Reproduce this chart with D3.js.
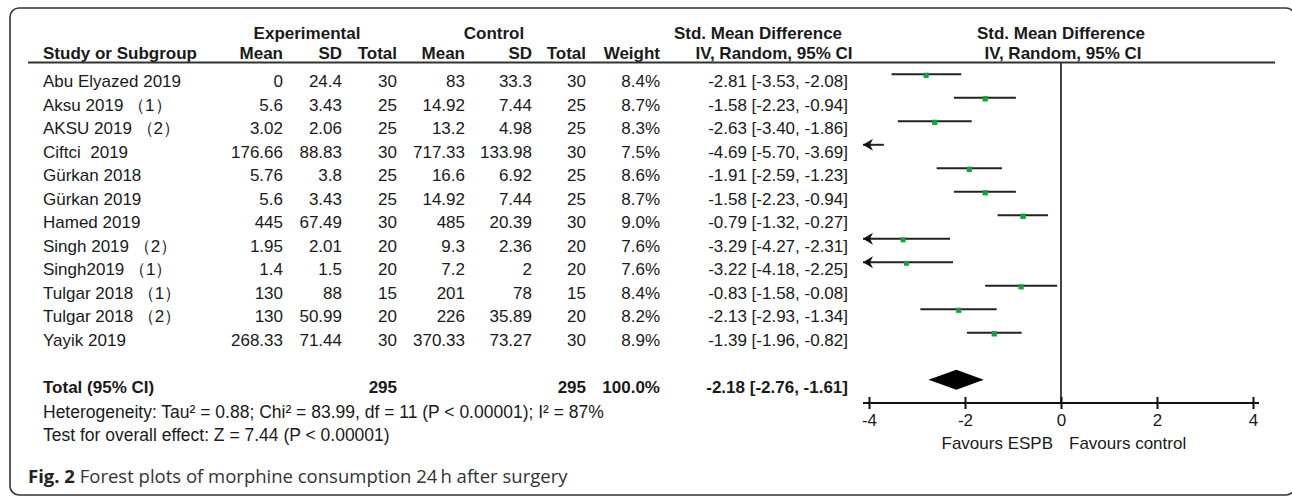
<!DOCTYPE html>
<html>
<head>
<meta charset="utf-8">
<script src="https://cdnjs.cloudflare.com/ajax/libs/d3/7.8.5/d3.min.js"></script>
<style>
  body { margin: 0; background: #fff; }
  svg text { font-family: "Liberation Sans", Arial, sans-serif; fill: #1a1a1a; white-space: pre; }
</style>
</head>
<body>
<div id="chart"></div>
<script>
// data
var studies = ["Abu Elyazed 2019", "Aksu 2019 （1）", "AKSU 2019 （2）", "Ciftci  2019", "Gürkan 2018", "Gürkan 2019",
  "Hamed 2019", "Singh 2019 （2）", "Singh2019 （1）", "Tulgar 2018 （1）", "Tulgar 2018 （2）", "Yayik 2019"];
var expMean = [0, 5.6, 3.02, 176.66, 5.76, 5.6, 445, 1.95, 1.4, 130, 130, 268.33];
var expSD = [24.4, 3.43, 2.06, 88.83, 3.8, 3.43, 67.49, 2.01, 1.5, 88, 50.99, 71.44];
var expTotal = [30, 25, 25, 30, 25, 25, 30, 20, 20, 15, 20, 30];
var ctrlMean = [83, 14.92, 13.2, 717.33, 16.6, 14.92, 485, 9.3, 7.2, 201, 226, 370.33];
var ctrlSD = [33.3, 7.44, 4.98, 133.98, 6.92, 7.44, 20.39, 2.36, 2, 78, 35.89, 73.27];
var ctrlTotal = [30, 25, 25, 30, 25, 25, 30, 20, 20, 15, 20, 30];
var weight = [8.4, 8.7, 8.3, 7.5, 8.6, 8.7, 9.0, 7.6, 7.6, 8.4, 8.2, 8.9];
var smd = [-2.81, -1.58, -2.63, -4.69, -1.91, -1.58, -0.79, -3.29, -3.22, -0.83, -2.13, -1.39];
var ciLow = [-3.53, -2.23, -3.40, -5.70, -2.59, -2.23, -1.32, -4.27, -4.18, -1.58, -2.93, -1.96];
var ciHigh = [-2.08, -0.94, -1.86, -3.69, -1.23, -0.94, -0.27, -2.31, -2.25, -0.08, -1.34, -0.82];

var total = { exp: 295, ctrl: 295, weight: 100.0, smd: -2.18, lo: -2.76, hi: -1.61 };
var axisTicks = [-4, -2, 0, 2, 4];

var width = 1292, height = 496;

var svg = d3.select("#chart").append("svg")
  .attr("width", width)
  .attr("height", height);

// frame
svg.append("rect")
  .attr("x", 10).attr("y", 8)
  .attr("width", 1285).attr("height", 487)
  .attr("rx", 9)
  .attr("fill", "none")
  .attr("stroke", "#333")
  .attr("stroke-width", 1.6);

var x = d3.scaleLinear().domain([-4, 4]).range([869, 1253]);
var y = d3.scaleLinear().domain([0, 13]).range([74.3, 379.8]);
var textOff = 13;

// column layout (right edges)
var cols = [
  { key: expMean, x: 283, head: "Mean" },
  { key: expSD, x: 342, head: "SD" },
  { key: expTotal, x: 397, head: "Total" },
  { key: ctrlMean, x: 465, head: "Mean" },
  { key: ctrlSD, x: 532, head: "SD" },
  { key: ctrlTotal, x: 586, head: "Total" }
];

var fs = "17px";

// header row 1
var head1 = [["Experimental", 307], ["Control", 494], ["Std. Mean Difference", 758], ["Std. Mean Difference", x(0)]];
svg.selectAll(".h1").data(head1).enter().append("text")
  .attr("x", d => d[1]).attr("y", 39)
  .attr("text-anchor", "middle")
  .style("font-size", fs).style("font-weight", "bold")
  .text(d => d[0]);

// header row 2
svg.append("text").attr("x", 43).attr("y", 59)
  .style("font-size", fs).style("font-weight", "bold")
  .text("Study or Subgroup");
cols.forEach(function (c) {
  svg.append("text").attr("x", c.x).attr("y", 59)
    .attr("text-anchor", "end")
    .style("font-size", fs).style("font-weight", "bold")
    .text(c.head);
});
svg.append("text").attr("x", 660).attr("y", 59).attr("text-anchor", "end")
  .style("font-size", fs).style("font-weight", "bold").text("Weight");
svg.append("text").attr("x", 774).attr("y", 59).attr("text-anchor", "middle")
  .style("font-size", fs).style("font-weight", "bold").text("IV, Random, 95% CI");
svg.append("text").attr("x", x(0) + 2).attr("y", 59).attr("text-anchor", "middle")
  .style("font-size", fs).style("font-weight", "bold").text("IV, Random, 95% CI");

svg.append("line")
  .attr("x1", 28).attr("x2", 1275)
  .attr("y1", 62.5).attr("y2", 62.5)
  .attr("stroke", "#333").attr("stroke-width", 2);

// study rows
var rows = svg.selectAll(".row").data(studies).enter().append("g")
  .attr("class", "row")
  .attr("transform", (d, i) => "translate(0," + (y(i) + textOff) + ")");

rows.append("text").attr("x", 43).style("font-size", fs).text(d => d);
cols.forEach(function (c) {
  rows.append("text").attr("x", c.x).attr("text-anchor", "end")
    .style("font-size", fs)
    .text((d, i) => String(c.key[i]));
});
rows.append("text").attr("x", 660).attr("text-anchor", "end").style("font-size", fs)
  .text((d, i) => weight[i].toFixed(1) + "%");
rows.append("text").attr("x", 848).attr("text-anchor", "end").style("font-size", fs)
  .text((d, i) => smd[i].toFixed(2) + " [" + ciLow[i].toFixed(2) + ", " + ciHigh[i].toFixed(2) + "]");

// total row
var ty = y(13) + textOff;
var totalCells = [["Total (95% CI)", 43, "start"], [String(total.exp), 397, "end"], [String(total.ctrl), 586, "end"],
  [total.weight.toFixed(1) + "%", 660, "end"],
  [total.smd.toFixed(2) + " [" + total.lo.toFixed(2) + ", " + total.hi.toFixed(2) + "]", 848, "end"]];
svg.selectAll(".tot").data(totalCells).enter().append("text")
  .attr("x", d => d[1]).attr("y", ty)
  .attr("text-anchor", d => d[2])
  .style("font-size", fs).style("font-weight", "bold")
  .text(d => d[0]);

svg.append("text").attr("x", 43).attr("y", 418).style("font-size", "17.5px")
  .text("Heterogeneity: Tau² = 0.88; Chi² = 83.99, df = 11 (P < 0.00001); I² = 87%");
svg.append("text").attr("x", 43).attr("y", 441).style("font-size", "17.5px")
  .text("Test for overall effect: Z = 7.44 (P < 0.00001)");

// plot: zero line
svg.append("line")
  .attr("x1", x(0)).attr("x2", x(0))
  .attr("y1", 63).attr("y2", 403)
  .attr("stroke", "#444").attr("stroke-width", 2);

var lim = x.domain();
var edgeL = x(lim[0]) - 6, edgeR = x(lim[1]) + 6;
var size = d3.scaleSqrt().domain([0, 9]).range([0, 5.4]);

var ci = svg.selectAll(".ci").data(studies).enter().append("g").attr("class", "ci");
ci.append("line")
  .attr("x1", (d, i) => ciLow[i] < lim[0] ? edgeL : x(ciLow[i]))
  .attr("x2", (d, i) => ciHigh[i] > lim[1] ? edgeR : x(ciHigh[i]))
  .attr("y1", (d, i) => y(i)).attr("y2", (d, i) => y(i))
  .attr("stroke", "#222").attr("stroke-width", 2);

// arrows for clipped intervals
ci.filter((d, i) => ciLow[i] < lim[0]).append("path")
  .attr("d", function (d) {
    var i = studies.indexOf(d), yy = y(i);
    return "M" + edgeL + "," + yy + "L" + (edgeL + 10) + "," + (yy - 6) + "L" + (edgeL + 7) + "," + yy +
      "L" + (edgeL + 10) + "," + (yy + 6) + "Z";
  })
  .attr("fill", "#111");

ci.filter((d, i) => smd[i] >= lim[0] && smd[i] <= lim[1]).append("rect")
  .attr("x", (d, i) => x(smd[studies.indexOf(d)]) - size(weight[studies.indexOf(d)]) / 2)
  .attr("y", d => y(studies.indexOf(d)) - size(weight[studies.indexOf(d)]) / 2 + 1)
  .attr("width", d => size(weight[studies.indexOf(d)]))
  .attr("height", d => size(weight[studies.indexOf(d)]))
  .attr("fill", "#16a03c");

// pooled diamond
var dy = y(13);
svg.append("path")
  .attr("d", "M" + x(total.lo) + "," + dy + "L" + x(total.smd) + "," + (dy - 10) + "L" + x(total.hi) + "," + dy +
    "L" + x(total.smd) + "," + (dy + 10) + "Z")
  .attr("fill", "#000");

// axis
var axis = svg.append("g")
  .attr("transform", "translate(0,403)")
  .call(d3.axisBottom(x).tickValues(axisTicks).tickSize(6).tickPadding(5).tickFormat(d3.format("d")));
axis.select(".domain").remove();
axis.append("line").attr("x1", edgeL).attr("x2", edgeR).attr("stroke", "#111").attr("stroke-width", 2);
axis.selectAll(".tick line").attr("y1", -6).attr("stroke", "#111").attr("stroke-width", 2);
axis.selectAll(".tick text").style("font-size", fs).attr("fill", "#1a1a1a")
  .text(d => d < 0 ? "-" + Math.abs(d) : String(d));

svg.append("text").attr("x", x(0) - 8).attr("y", 449).attr("text-anchor", "end")
  .style("font-size", fs).text("Favours ESPB");
svg.append("text").attr("x", x(0) + 8).attr("y", 449)
  .style("font-size", fs).text("Favours control");

// caption
var cap = svg.append("text").attr("x", 28).attr("y", 483)
  .style("font-family", "'Open Sans', sans-serif").style("font-size", "18.5px");
cap.append("tspan").style("font-weight", "bold").style("font-family", "'Open Sans', sans-serif").style("fill", "#222").text("Fig. 2");
cap.append("tspan").style("font-family", "'Open Sans', sans-serif").style("font-weight", 400).style("fill", "#333")
  .text(" Forest plots of morphine consumption 24\u2009h after surgery");
</script>
</body>
</html>
